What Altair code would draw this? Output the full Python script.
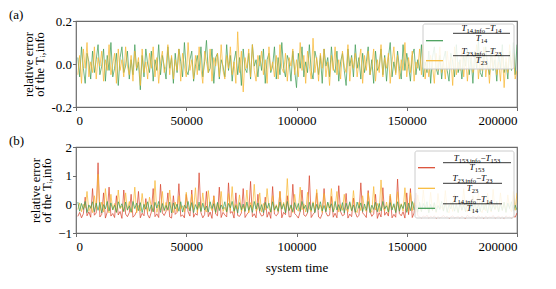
import altair as alt
import numpy as np
import pandas as pd

# ---- data (values in hundredths of relative error) ----
green_a = [
 3,-6,8,-2,-9,5,1,-7,6,-4, 2,9,-5,-1,7,-8,4,-3,10,-6,
 -2,5,-10,3,8,-4,-1,6,-7,2, -5,9,-3,1,-12,4,-6,7,0,-4,
 6,-8,2,-3,9,-5,4,-1,-7,8, -2,3,-9,5,-4,7,1,-6,10,-3,
 -5,2,6,-8,-1,4,-3,8,-6,1, 11,-4,-2,7,-9,3,5,-7,2,-1,
 -6,9,-3,4,-8,1,6,-5,3,-10, 7,-2,-4,5,-7,9,-1,2,-6,4,
 -3,7,-9,2,5,-4,-1,8,-7,3, -5,10,-2,-6,4,1,-8,6,-3,-11,
 5,-2,8,-6,1,-4,9,-3,-7,6, 2,-5,4,-9,7,-1,3,-6,8,-2,
 -4,6,-8,1,5,-3,-10,7,-1,4, -6,9,-2,3,-7,5,-4,1,8,-5,
 2,-9,6,-3,-1,7,-5,4,-8,3, 10,-6,1,-4,6,-2,-7,9,-3,5,
 -1,-8,4,7,-5,2,-3,9,-6,1, -4,6,-9,3,8,-2,-5,4,-7,2,
 6,-3,-8,5,1,-6,9,-4,2,-7, 4,-1,7,-5,3,-9,6,-2,11,-4,
 -6,3,8,-1,-5,7,-3,2,-8,5, -2,9,-4,1,-7,6,-3,10,-5,9]

orange_a = [
 -5,4,-9,7,-2,10,-6,1,-4,8, -7,3,-1,6,-8,2,-3,9,-5,0,
 5,-9,7,-3,2,-6,8,-1,-5,4, -8,6,-2,3,-10,7,-4,1,-7,5,
 -2,8,-6,3,-9,1,6,-4,-1,9, -5,4,-7,2,-3,7,-8,5,-1,-6,
 10,-3,2,-7,4,-5,8,-2,-9,6, 1,-4,7,-8,3,-1,5,-6,9,-3,
 -7,4,-2,8,-5,1,-9,15,-4,6, -13,3,-2,7,-6,9,-3,-8,4,-1,
 6,-5,2,-9,8,-3,1,-6,4,-7, 9,-2,-4,5,-8,3,-1,7,-5,2,
 -6,10,-3,4,-9,6,-1,-7,12,-4, 3,-8,5,-2,7,-6,1,-10,4,-3,
 8,-5,2,-7,6,-1,-4,9,-8,3, -2,5,-6,1,7,-9,4,-3,6,-5,
 -1,7,-8,2,-4,9,-6,3,-2,5, -9,1,8,-5,4,-7,2,-3,10,-6,
 3,-4,6,-8,1,-2,7,-5,9,-7, 2,-6,4,-1,-9,5,-3,8,-4,1,
 -7,6,-2,3,-10,8,-5,1,-3,7, -6,4,-8,2,5,-4,-1,9,-7,3,
 -3,8,-6,2,-9,4,-2,7,-5,1, -8,6,-11,3,-4,9,-2,5,-7,-3]

red_b = [
 -42,-28,-47,-33,25,-40,-26,-45,55,-38, -30,145,-44,-35,40,-48,-27,60,-41,-32,
 -46,30,-37,-25,-49,50,-34,-43,-29,35, -45,-38,-24,45,-47,-31,-40,20,-36,-48,
 -27,55,-43,-33,-46,70,-30,-39,-25,40, -44,-48,30,-35,-28,72,-42,-37,-47,35,
 -26,-41,50,-45,-32,-38,110,-29,-47,-36, 45,-43,-27,-49,30,-34,-40,60,-46,-28,
 -37,-44,75,-31,-25,-48,40,-39,-42,-30, 55,-46,-35,-27,80,-43,-33,-47,35,-29,
 -41,-38,25,-45,-26,-49,62,-34,-40,-31, 45,-47,-28,-36,30,-44,-43,70,-32,-39,
 -48,-25,50,-37,-42,-30,100,-46,-35,-27, 40,-44,-49,-33,55,-29,-41,-38,28,-45,
 -31,-47,65,-26,-40,-36,38,-48,-34,-43, 22,-28,-45,-39,75,-30,-37,-46,48,-25,
 -42,-33,35,-49,-29,-44,58,-38,-27,-41, 30,-47,-35,-45,88,-32,-40,-26,-48,40,
 -36,55,-46,-30,40,-39,-44,-47,-41,-45, -38,-48,-42,-46,-40,-49,-43,-47,-44,-39,
 -46,-42,-49,-44,-40,-47,-45,-43,-48,-41, -46,-49,-38,-44,-47,-42,-45,-48,-40,-46,
 -43,-49,-41,-47,-44,-46,-39,-48,-45,-42, -47,-43,-49,-40,-46,-44,-48,-41,-45,-30]

orange_b = [
 -18,5,-26,0,-12,45,-24,-5,-29,30, -15,105,-22,8,-27,55,-10,-30,35,-20,
 3,-28,50,-16,-6,-25,40,-21,10,-29, -13,60,-30,-4,-23,38,-18,6,-27,25,
 -9,-26,83,-28,-2,-20,45,-24,7,-22, 50,-14,-29,8,-25,30,-17,-5,-27,42,
 -12,-23,35,-19,58,-28,0,-24,40,-15, -27,48,-7,-22,28,-30,4,-18,45,-25,
 -10,-28,38,-21,62,-29,1,-16,33,-26, -5,-23,50,-30,6,-19,70,-24,-13,40,
 -27,3,-20,55,-14,-28,30,-23,-1,-26, 45,-17,7,-25,90,-21,-8,-29,35,-15,
 -24,60,-19,2,-27,42,-13,-26,9,-22, 52,-18,-3,-28,38,-23,5,-20,55,-25,
 -11,45,-27,-1,-21,35,-16,-26,4,-24, 48,-19,-29,7,-22,30,-14,-25,40,-17,
 -28,62,-20,3,-26,85,-12,-23,8,-29, 36,-15,-4,-27,44,-21,2,-24,58,-18,
 -25,40,-22,6,-28,33,-10,-26,50,-19, -3,-27,42,-23,5,-29,38,-16,-8,-24,
 48,-21,-30,7,-25,35,-13,-28,2,-22, 55,-17,-27,9,-24,30,-11,-26,46,-20,
 -29,4,-23,38,-15,-27,52,-19,-6,-25, 40,-22,8,-28,33,-14,-26,45,-21,40]

green_b = [
 8,-24,3,-18,10,-29,-2,-14,9,-26, 4,-21,7,-30,-1,-16,10,-23,5,-19,
 -3,-28,9,-12,2,-25,8,-20,-5,-27, 10,-15,4,-22,6,-29,0,-17,9,-24,
 -2,-26,7,-13,10,-28,3,-21,-4,-19, 8,-30,5,-16,1,-24,9,-27,-3,-14,
 10,-23,6,-29,-1,-18,8,-25,4,-20, -6,-27,9,-15,2,-28,7,-22,-2,-17,
 9,-26,3,-12,10,-24,-4,-30,6,-19, 1,-25,8,-21,-3,-28,10,-16,5,-23,
 -1,-29,7,-14,4,-27,9,-20,-5,-24, 8,-17,2,-30,10,-22,-2,-26,6,-18,
 3,-25,10,-15,-3,-28,7,-21,5,-29, 0,-19,9,-23,-4,-26,8,-13,2,-27,
 10,-20,-1,-24,6,-30,4,-17,9,-22, -2,-28,8,-14,5,-25,1,-21,10,-29,
 -3,-18,7,-26,3,-23,10,-16,-5,-27, 6,-20,2,-29,9,-24,-1,-15,8,-28,
 4,-22,10,-19,-2,-27,7,-25,3,-14, 9,-30,0,-21,6,-26,-4,-18,10,-23,
 5,-28,-1,-16,8,-24,2,-29,9,-20, -3,-26,7,-13,4,-27,10,-22,-1,-25,
 8,-19,3,-30,6,-23,-2,-17,10,-26, 1,-21,7,-28,4,-15,9,-24,-3,-20]

x_ticks = [0, 50000, 100000, 150000, 200000]
T_MAX = 200000

# legend entries: subscript of T
sub_14, sub_23, sub_153 = "14", "23", "153"

FONT = "Liberation Serif"
GRAY = "#6b6b6b"
GREEN = "#3e9a52"
ORANGE = "#f8b731"
RED = "#d8432b"
W, H = 441, 86
MAIN, SUB = 9, 6.5

CHAR_W = {"0": .5, "1": .5, "2": .5, "3": .5, "4": .5, "5": .5, "6": .5, "7": .5,
          "8": .5, "9": .5, ",": .25, "i": .278, "n": .5, "f": .333, "o": .5,
          "T": .556, "\u2212": .564, " ": .25}


def tw(s, size):
    return sum(CHAR_W.get(c, .5) for c in s) * size


def sdf(vals):
    n = len(vals)
    return pd.DataFrame({"t": np.arange(1, n + 1) * T_MAX / n,
                         "v": np.array(vals, dtype=float) / 100})


one = pd.DataFrame({"k": [0]})


def x_enc(title=None):
    return alt.X("t:Q", scale=alt.Scale(domain=[0, T_MAX], nice=False, zero=False),
                 axis=alt.Axis(values=x_ticks, format="d", title=title, labelPadding=4,
                               titleFontWeight="normal", titlePadding=8))


def lines(series, ydom, yvals, label_expr=None):
    out = []
    for vals, col in series:
        ax = dict(values=yvals, title=["relative error", "of the T\u1d62,info"],
                  titleFontWeight="normal", titlePadding=4, titleLineHeight=11,
                  titleFontSize=12.5)
        if label_expr:
            ax["labelExpr"] = label_expr
        out.append(
            alt.Chart(sdf(vals)).mark_line(color=col, strokeWidth=0.9, opacity=0.8, clip=True)
            .encode(x=x_enc(), y=alt.Y("v:Q", scale=alt.Scale(domain=ydom, nice=False),
                                       axis=alt.Axis(**ax)))
        )
    return out


def rich(segs, cx, base):
    """segs: list of (text, size, italic, dy); centred at cx, baseline base."""
    total = sum(tw(t, s) for t, s, _, _ in segs)
    x = cx - total / 2
    out = []
    for t, s, it, dy in segs:
        out.append(alt.Chart(one).mark_text(font=FONT, fontSize=s, baseline="alphabetic",
                                            align="left", color="black",
                                            fontStyle="italic" if it else "normal")
                   .encode(x=alt.value(x), y=alt.value(base + dy), text=alt.value(t)))
        x += tw(t, s)
    return out


def legend(box, entries):
    layers = [alt.Chart(one).mark_rect(fill="white", fillOpacity=0.85, stroke="#cccccc",
                                       strokeWidth=1, cornerRadius=2)
              .encode(x=alt.value(box[0]), x2=alt.value(box[1]),
                      y=alt.value(box[2]), y2=alt.value(box[3]))]
    for col, yl, sub, by, bx1, bx2 in entries:
        cx = (bx1 + bx2) / 2
        layers.append(alt.Chart(one).mark_rule(color=col, strokeWidth=1.2)
                      .encode(x=alt.value(box[0] + 3), x2=alt.value(box[0] + 20),
                              y=alt.value(yl), y2=alt.value(yl)))
        layers.append(alt.Chart(one).mark_rule(color="black", strokeWidth=0.8)
                      .encode(x=alt.value(bx1), x2=alt.value(bx2),
                              y=alt.value(by), y2=alt.value(by)))
        num = [("T", MAIN, True, 0), (sub + ",info", SUB, False, 1.8),
               ("\u2212", MAIN, False, 0), ("T", MAIN, True, 0), (sub, SUB, False, 1.8)]
        den = [("T", MAIN, True, 0), (sub, SUB, False, 1.8)]
        layers += rich(num, cx, by - 2)
        layers += rich(den, cx, by + 7.5)
    return layers


def panel_label(txt):
    return (alt.Chart(one).mark_text(font=FONT, fontSize=13, baseline="top", align="left",
                                     color="black")
            .encode(x=alt.value(-67), y=alt.value(-12), text=alt.value(txt)))


panel_a = alt.layer(
    *lines([(green_a, GREEN), (orange_a, ORANGE)], [-0.2, 0.2], [-0.2, 0.0, 0.2],
           "datum.value < 0 ? '-' + format(-datum.value, '.1f') : format(datum.value, '.1f')"),
    *legend((347, 438, 3, 48), [
        (GREEN, 19.7, sub_14, 12.3, 377, 434),
        (ORANGE, 39.7, sub_23, 34.7, 377, 434),
    ]),
    panel_label("(a)"),
).properties(width=W, height=H)

lb = lines([(red_b, RED), (orange_b, ORANGE), (green_b, GREEN)], [-1, 2], [-1, 0, 1, 2])
lb = [l.encode(x=x_enc("system time")) for l in lb]

panel_b = alt.layer(
    *lb,
    *legend((339, 438, 4, 71), [
        (RED, 20.7, sub_153, 15.7, 367, 435),
        (ORANGE, 41.3, sub_23, 36.3, 367, 426),
        (GREEN, 61.3, sub_14, 56.8, 367, 426),
    ]),
    panel_label("(b)"),
).properties(width=W, height=H)

chart = alt.vconcat(panel_a, panel_b, spacing=5).properties(padding=0).configure_axis(
    labelFont=FONT, titleFont=FONT, labelFontSize=13, titleFontSize=13,
    labelColor="black", titleColor="black", tickColor=GRAY, domain=False,
    tickSize=3.5, labelPadding=1, grid=False,
).configure_view(stroke=GRAY, strokeWidth=1.2)

chart.save("out.html", embed_options={"renderer": "svg", "actions": False})
